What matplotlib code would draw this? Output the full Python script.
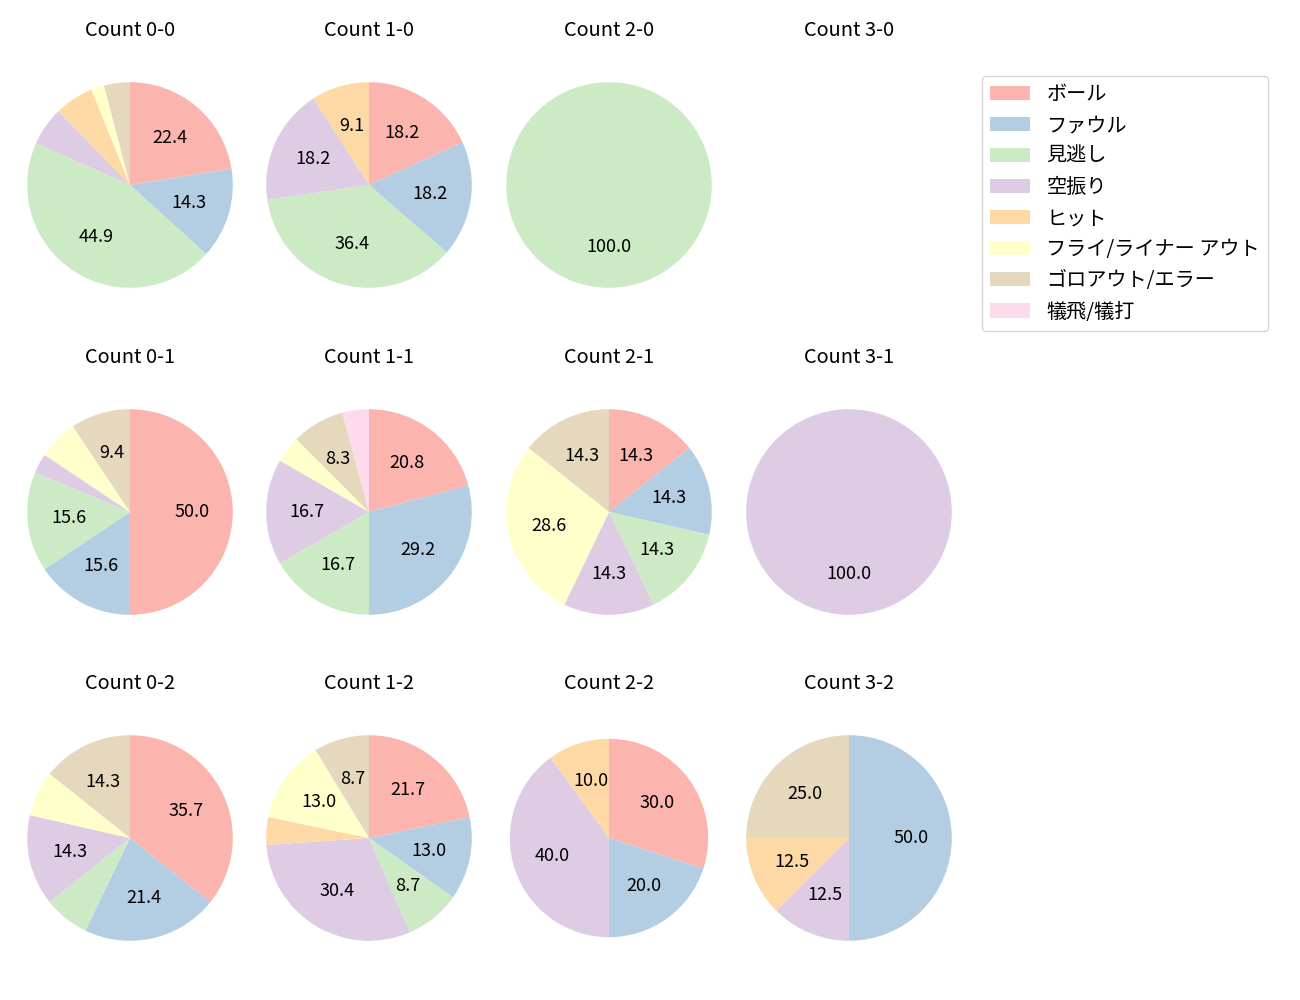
import matplotlib.pyplot as plt

plt.rcParams['font.family'] = ['Noto Sans CJK JP', 'DejaVu Sans']
plt.rcParams['font.size'] = 12

# 球種結果のカテゴリ
labels = ['ボール', 'ファウル', '見逃し', '空振り', 'ヒット',
          'フライ/ライナー アウト', 'ゴロアウト/エラー', '犠飛/犠打']
colors = plt.cm.Pastel1.colors[:8]

# カウント別の件数 (ボール, ファウル, 見逃し, 空振り, ヒット, フライ, ゴロ, 犠飛/犠打)
c00 = [11, 7, 22, 3, 3, 1, 2, 0]
c10 = [2, 2, 4, 2, 1, 0, 0, 0]
c20 = [0, 0, 1, 0, 0, 0, 0, 0]
c30 = [0, 0, 0, 0, 0, 0, 0, 0]
c01 = [16, 5, 5, 1, 0, 2, 3, 0]
c11 = [5, 7, 4, 4, 0, 1, 2, 1]
c21 = [1, 1, 1, 1, 0, 2, 1, 0]
c31 = [0, 0, 0, 1, 0, 0, 0, 0]
c02 = [5, 3, 1, 2, 0, 1, 2, 0]
c12 = [5, 3, 2, 7, 1, 3, 2, 0]
c22 = [3, 2, 0, 4, 1, 0, 0, 0]
c32 = [0, 4, 0, 1, 1, 0, 2, 0]

grid = [[('Count 0-0', c00), ('Count 1-0', c10), ('Count 2-0', c20), ('Count 3-0', c30)],
        [('Count 0-1', c01), ('Count 1-1', c11), ('Count 2-1', c21), ('Count 3-1', c31)],
        [('Count 0-2', c02), ('Count 1-2', c12), ('Count 2-2', c22), ('Count 3-2', c32)]]

W, H = 1300, 1000
xs = [130, 369, 609, 849]
ys = [185, 512, 838]
S = 257

fig = plt.figure(figsize=(13, 10), dpi=100)
handles = None
for r, row in enumerate(grid):
    for c, (title, vals) in enumerate(row):
        ax = fig.add_axes([(xs[c] - S / 2) / W, 1 - (ys[r] + S / 2) / H, S / W, S / H])
        ax.set_title(title, pad=15)
        if sum(vals) == 0:
            ax.axis('off')
            continue
        # 2-2 だけ少し小さく描かれている
        rad = 0.965 if title == 'Count 2-2' else 1.0
        wedges, _, _ = ax.pie(vals, colors=colors, startangle=90, counterclock=False,
                              radius=rad, textprops={'fontsize': 13},
                              autopct=lambda p: f'{p:.1f}' if p >= 8 else '')
        ax.set_xlim(-1.25, 1.25)
        ax.set_ylim(-1.25, 1.25)
        if handles is None and len(wedges) == 8:
            handles = wedges

fig.legend(handles, labels, loc='upper left', bbox_to_anchor=(982 / W, 1 - 76 / H),
           borderaxespad=0, fontsize=14.5)
fig.savefig('out.png')
